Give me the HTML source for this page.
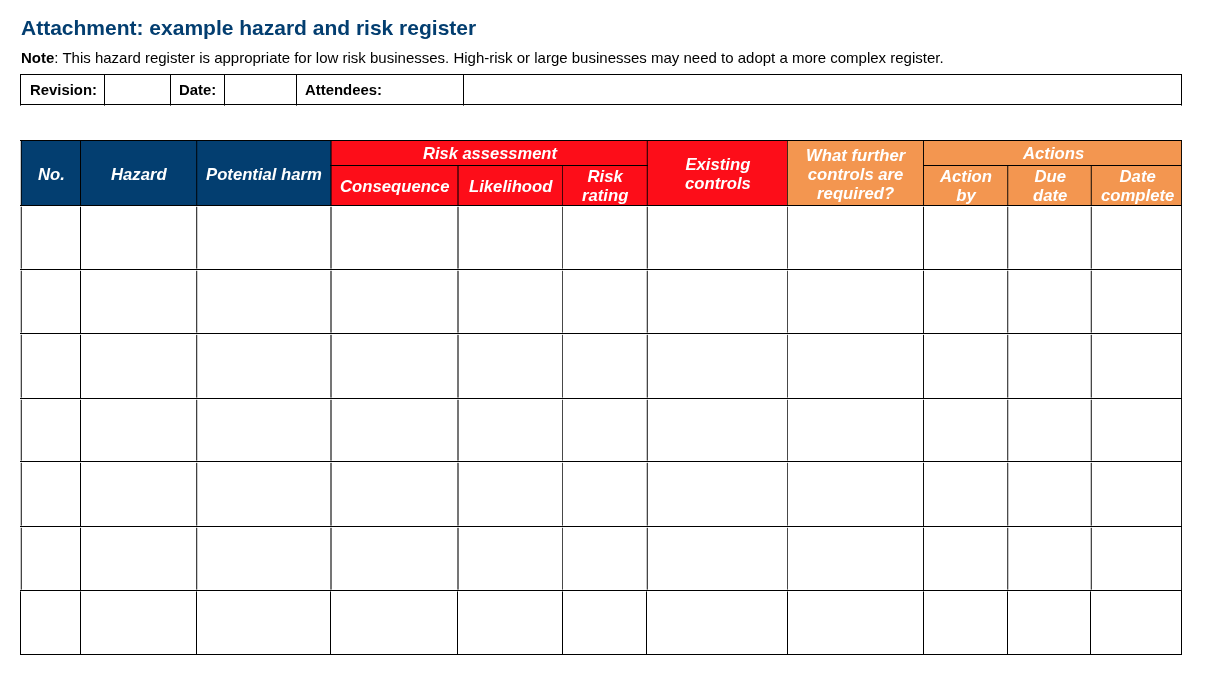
<!DOCTYPE html>
<html><head><meta charset="utf-8"><title>Hazard and risk register</title>
<style>
html,body{margin:0;padding:0;background:#fff;}
body{width:1210px;height:677px;position:relative;overflow:hidden;font-family:"Liberation Sans",sans-serif;color:#000;}
.l{position:absolute;background:#000;}
h1{will-change:transform;position:absolute;left:21px;top:16px;margin:0;font-size:21px;font-weight:bold;color:#033e70;line-height:24px;white-space:nowrap;}
.note{will-change:transform;position:absolute;left:21px;top:49px;font-size:15px;line-height:18px;white-space:nowrap;}
.lab{will-change:transform;position:absolute;font-size:14.9px;font-weight:bold;line-height:18px;white-space:nowrap;}
.bg{position:absolute;}
.hc{position:absolute;display:flex;align-items:center;justify-content:center;text-align:center;color:#fff;font-weight:bold;font-style:italic;font-size:16.7px;line-height:19px;}
.hc span{will-change:transform;position:relative;left:1px;display:block;}
.blue{background:#033e70;}
.red{background:#fd0d19;}
.org{background:#f39650;}
</style></head><body>
<h1>Attachment: example hazard and risk register</h1>
<div class="note"><b>Note</b>: This hazard register is appropriate for low risk businesses. High-risk or large businesses may need to adopt a more complex register.</div>

<div class="l" style="left:20px;top:74px;width:1162px;height:1px"></div>
<div class="l" style="left:20px;top:104px;width:1162px;height:1px"></div>
<div class="l" style="left:20px;top:74px;width:1px;height:31px"></div>
<div class="l" style="left:20px;top:105px;width:1px;height:1px;background:rgba(0,0,0,.6)"></div>
<div class="l" style="left:104px;top:74px;width:1px;height:31px"></div>
<div class="l" style="left:104px;top:105px;width:1px;height:1px;background:rgba(0,0,0,.6)"></div>
<div class="l" style="left:170px;top:74px;width:1px;height:31px"></div>
<div class="l" style="left:170px;top:105px;width:1px;height:1px;background:rgba(0,0,0,.6)"></div>
<div class="l" style="left:224px;top:74px;width:1px;height:31px"></div>
<div class="l" style="left:224px;top:105px;width:1px;height:1px;background:rgba(0,0,0,.6)"></div>
<div class="l" style="left:296px;top:74px;width:1px;height:31px"></div>
<div class="l" style="left:296px;top:105px;width:1px;height:1px;background:rgba(0,0,0,.6)"></div>
<div class="l" style="left:463px;top:74px;width:1px;height:31px"></div>
<div class="l" style="left:463px;top:105px;width:1px;height:1px;background:rgba(0,0,0,.6)"></div>
<div class="l" style="left:1181px;top:74px;width:1px;height:31px"></div>
<div class="l" style="left:1181px;top:105px;width:1px;height:1px;background:rgba(0,0,0,.6)"></div>
<div class="lab" style="left:30px;top:81px">Revision:</div>
<div class="lab" style="left:179px;top:81px">Date:</div>
<div class="lab" style="left:305px;top:81px">Attendees:</div>
<div class="bg blue" style="left:21px;top:140px;width:310px;height:65px"></div>
<div class="bg red" style="left:331px;top:140px;width:456px;height:65px"></div>
<div class="bg org" style="left:787px;top:140px;width:395px;height:65px"></div>
<div class="hc" style="left:20px;top:140px;width:60px;height:65px"><span style="top:2px;left:1px">No.</span></div>
<div class="hc" style="left:80px;top:140px;width:116px;height:65px"><span style="top:2px;left:1px">Hazard</span></div>
<div class="hc" style="left:196px;top:140px;width:134px;height:65px"><span style="top:2px;left:1px">Potential harm</span></div>
<div class="hc" style="left:330px;top:140px;width:316px;height:25px"><span style="top:1px;left:2px"><i style="font-size:16.5px">Risk assessment</i></span></div>
<div class="hc" style="left:330px;top:165px;width:127px;height:40px"><span style="top:1px;left:1px">Consequence</span></div>
<div class="hc" style="left:457px;top:165px;width:105px;height:40px"><span style="top:1px;left:1px">Likelihood</span></div>
<div class="hc" style="left:562px;top:165px;width:84px;height:40px"><span style="top:1px;left:1px">Risk<br>rating</span></div>
<div class="hc" style="left:646px;top:140px;width:141px;height:65px"><span style="top:1px;left:1px">Existing<br>controls</span></div>
<div class="hc" style="left:787px;top:140px;width:136px;height:65px"><span style="top:2px;left:1px">What further<br>controls are<br>required?</span></div>
<div class="hc" style="left:923px;top:140px;width:258px;height:25px"><span style="top:1px;left:2px">Actions</span></div>
<div class="hc" style="left:923px;top:165px;width:84px;height:40px"><span style="top:1px;left:1px">Action<br>by</span></div>
<div class="hc" style="left:1007px;top:165px;width:83px;height:40px"><span style="top:1px;left:2px">Due<br>date</span></div>
<div class="hc" style="left:1090px;top:165px;width:91px;height:40px"><span style="top:1px;left:2px">Date<br>complete</span></div>
<div class="l" style="left:20px;top:140px;width:1px;height:450px;background:rgba(0,0,0,0.22)"></div>
<div class="l" style="left:21px;top:140px;width:1px;height:450px;background:rgba(0,0,0,0.73)"></div>
<div class="l" style="left:80px;top:140px;width:1px;height:450px;background:rgba(0,0,0,1)"></div>
<div class="l" style="left:196px;top:140px;width:1px;height:450px;background:rgba(0,0,0,0.75)"></div>
<div class="l" style="left:197px;top:140px;width:1px;height:450px;background:rgba(0,0,0,0.2)"></div>
<div class="l" style="left:330px;top:140px;width:1px;height:450px;background:rgba(0,0,0,0.54)"></div>
<div class="l" style="left:331px;top:140px;width:1px;height:450px;background:rgba(0,0,0,0.54)"></div>
<div class="l" style="left:457px;top:165px;width:1px;height:425px;background:rgba(0,0,0,0.54)"></div>
<div class="l" style="left:458px;top:165px;width:1px;height:425px;background:rgba(0,0,0,0.54)"></div>
<div class="l" style="left:562px;top:165px;width:1px;height:425px;background:rgba(0,0,0,0.72)"></div>
<div class="l" style="left:646px;top:140px;width:1px;height:450px;background:rgba(0,0,0,0.22)"></div>
<div class="l" style="left:647px;top:140px;width:1px;height:450px;background:rgba(0,0,0,0.73)"></div>
<div class="l" style="left:787px;top:140px;width:1px;height:450px;background:rgba(0,0,0,0.72)"></div>
<div class="l" style="left:923px;top:140px;width:1px;height:450px;background:rgba(0,0,0,0.95)"></div>
<div class="l" style="left:1007px;top:165px;width:1px;height:425px;background:rgba(0,0,0,0.71)"></div>
<div class="l" style="left:1008px;top:165px;width:1px;height:425px;background:rgba(0,0,0,0.22)"></div>
<div class="l" style="left:1090px;top:165px;width:1px;height:425px;background:rgba(0,0,0,0.22)"></div>
<div class="l" style="left:1091px;top:165px;width:1px;height:425px;background:rgba(0,0,0,0.72)"></div>
<div class="l" style="left:1181px;top:140px;width:1px;height:450px;background:rgba(0,0,0,0.92)"></div>
<div class="l" style="left:20px;top:590px;width:1px;height:65px"></div>
<div class="l" style="left:80px;top:590px;width:1px;height:65px"></div>
<div class="l" style="left:196px;top:590px;width:1px;height:65px"></div>
<div class="l" style="left:330px;top:590px;width:1px;height:65px"></div>
<div class="l" style="left:457px;top:590px;width:1px;height:65px"></div>
<div class="l" style="left:562px;top:590px;width:1px;height:65px"></div>
<div class="l" style="left:646px;top:590px;width:1px;height:65px"></div>
<div class="l" style="left:787px;top:590px;width:1px;height:65px"></div>
<div class="l" style="left:923px;top:590px;width:1px;height:65px"></div>
<div class="l" style="left:1007px;top:590px;width:1px;height:65px"></div>
<div class="l" style="left:1090px;top:590px;width:1px;height:65px"></div>
<div class="l" style="left:1181px;top:590px;width:1px;height:65px"></div>
<div class="l" style="left:20px;top:140px;width:1162px;height:1px"></div>
<div class="l" style="left:330px;top:165px;width:318px;height:1px"></div>
<div class="l" style="left:923px;top:165px;width:259px;height:1px"></div>
<div class="l" style="left:20px;top:205px;width:1162px;height:1px"></div>
<div class="l" style="left:20px;top:269px;width:1162px;height:1px"></div>
<div class="l" style="left:20px;top:333px;width:1162px;height:1px"></div>
<div class="l" style="left:20px;top:398px;width:1162px;height:1px"></div>
<div class="l" style="left:20px;top:461px;width:1162px;height:1px"></div>
<div class="l" style="left:20px;top:526px;width:1162px;height:1px"></div>
<div class="l" style="left:20px;top:590px;width:1162px;height:1px"></div>
<div class="l" style="left:20px;top:654px;width:1162px;height:1px"></div>
<div class="l" style="left:20px;top:206px;width:1161px;height:1px;background:rgba(255,255,255,0.8)"></div>
<div class="l" style="left:20px;top:270px;width:1161px;height:1px;background:rgba(255,255,255,0.8)"></div>
<div class="l" style="left:20px;top:334px;width:1161px;height:1px;background:rgba(255,255,255,0.8)"></div>
<div class="l" style="left:20px;top:399px;width:1161px;height:1px;background:rgba(255,255,255,0.8)"></div>
<div class="l" style="left:20px;top:462px;width:1161px;height:1px;background:rgba(255,255,255,0.8)"></div>
<div class="l" style="left:20px;top:527px;width:1161px;height:1px;background:rgba(255,255,255,0.8)"></div>
<div class="l" style="left:20px;top:591px;width:1161px;height:1px;background:rgba(255,255,255,0.4)"></div>
<div class="l" style="left:20px;top:268px;width:1px;height:1px;background:rgba(255,255,255,.4)"></div>
<div class="l" style="left:21px;top:268px;width:1px;height:1px;background:rgba(255,255,255,.4)"></div>
<div class="l" style="left:196px;top:268px;width:1px;height:1px;background:rgba(255,255,255,.4)"></div>
<div class="l" style="left:197px;top:268px;width:1px;height:1px;background:rgba(255,255,255,.4)"></div>
<div class="l" style="left:330px;top:268px;width:1px;height:1px;background:rgba(255,255,255,.4)"></div>
<div class="l" style="left:331px;top:268px;width:1px;height:1px;background:rgba(255,255,255,.4)"></div>
<div class="l" style="left:457px;top:268px;width:1px;height:1px;background:rgba(255,255,255,.4)"></div>
<div class="l" style="left:458px;top:268px;width:1px;height:1px;background:rgba(255,255,255,.4)"></div>
<div class="l" style="left:562px;top:268px;width:1px;height:1px;background:rgba(255,255,255,.4)"></div>
<div class="l" style="left:646px;top:268px;width:1px;height:1px;background:rgba(255,255,255,.4)"></div>
<div class="l" style="left:647px;top:268px;width:1px;height:1px;background:rgba(255,255,255,.4)"></div>
<div class="l" style="left:787px;top:268px;width:1px;height:1px;background:rgba(255,255,255,.4)"></div>
<div class="l" style="left:1007px;top:268px;width:1px;height:1px;background:rgba(255,255,255,.4)"></div>
<div class="l" style="left:1008px;top:268px;width:1px;height:1px;background:rgba(255,255,255,.4)"></div>
<div class="l" style="left:1090px;top:268px;width:1px;height:1px;background:rgba(255,255,255,.4)"></div>
<div class="l" style="left:1091px;top:268px;width:1px;height:1px;background:rgba(255,255,255,.4)"></div>
<div class="l" style="left:20px;top:332px;width:1px;height:1px;background:rgba(255,255,255,.4)"></div>
<div class="l" style="left:21px;top:332px;width:1px;height:1px;background:rgba(255,255,255,.4)"></div>
<div class="l" style="left:196px;top:332px;width:1px;height:1px;background:rgba(255,255,255,.4)"></div>
<div class="l" style="left:197px;top:332px;width:1px;height:1px;background:rgba(255,255,255,.4)"></div>
<div class="l" style="left:330px;top:332px;width:1px;height:1px;background:rgba(255,255,255,.4)"></div>
<div class="l" style="left:331px;top:332px;width:1px;height:1px;background:rgba(255,255,255,.4)"></div>
<div class="l" style="left:457px;top:332px;width:1px;height:1px;background:rgba(255,255,255,.4)"></div>
<div class="l" style="left:458px;top:332px;width:1px;height:1px;background:rgba(255,255,255,.4)"></div>
<div class="l" style="left:562px;top:332px;width:1px;height:1px;background:rgba(255,255,255,.4)"></div>
<div class="l" style="left:646px;top:332px;width:1px;height:1px;background:rgba(255,255,255,.4)"></div>
<div class="l" style="left:647px;top:332px;width:1px;height:1px;background:rgba(255,255,255,.4)"></div>
<div class="l" style="left:787px;top:332px;width:1px;height:1px;background:rgba(255,255,255,.4)"></div>
<div class="l" style="left:1007px;top:332px;width:1px;height:1px;background:rgba(255,255,255,.4)"></div>
<div class="l" style="left:1008px;top:332px;width:1px;height:1px;background:rgba(255,255,255,.4)"></div>
<div class="l" style="left:1090px;top:332px;width:1px;height:1px;background:rgba(255,255,255,.4)"></div>
<div class="l" style="left:1091px;top:332px;width:1px;height:1px;background:rgba(255,255,255,.4)"></div>
<div class="l" style="left:20px;top:397px;width:1px;height:1px;background:rgba(255,255,255,.4)"></div>
<div class="l" style="left:21px;top:397px;width:1px;height:1px;background:rgba(255,255,255,.4)"></div>
<div class="l" style="left:196px;top:397px;width:1px;height:1px;background:rgba(255,255,255,.4)"></div>
<div class="l" style="left:197px;top:397px;width:1px;height:1px;background:rgba(255,255,255,.4)"></div>
<div class="l" style="left:330px;top:397px;width:1px;height:1px;background:rgba(255,255,255,.4)"></div>
<div class="l" style="left:331px;top:397px;width:1px;height:1px;background:rgba(255,255,255,.4)"></div>
<div class="l" style="left:457px;top:397px;width:1px;height:1px;background:rgba(255,255,255,.4)"></div>
<div class="l" style="left:458px;top:397px;width:1px;height:1px;background:rgba(255,255,255,.4)"></div>
<div class="l" style="left:562px;top:397px;width:1px;height:1px;background:rgba(255,255,255,.4)"></div>
<div class="l" style="left:646px;top:397px;width:1px;height:1px;background:rgba(255,255,255,.4)"></div>
<div class="l" style="left:647px;top:397px;width:1px;height:1px;background:rgba(255,255,255,.4)"></div>
<div class="l" style="left:787px;top:397px;width:1px;height:1px;background:rgba(255,255,255,.4)"></div>
<div class="l" style="left:1007px;top:397px;width:1px;height:1px;background:rgba(255,255,255,.4)"></div>
<div class="l" style="left:1008px;top:397px;width:1px;height:1px;background:rgba(255,255,255,.4)"></div>
<div class="l" style="left:1090px;top:397px;width:1px;height:1px;background:rgba(255,255,255,.4)"></div>
<div class="l" style="left:1091px;top:397px;width:1px;height:1px;background:rgba(255,255,255,.4)"></div>
<div class="l" style="left:20px;top:460px;width:1px;height:1px;background:rgba(255,255,255,.4)"></div>
<div class="l" style="left:21px;top:460px;width:1px;height:1px;background:rgba(255,255,255,.4)"></div>
<div class="l" style="left:196px;top:460px;width:1px;height:1px;background:rgba(255,255,255,.4)"></div>
<div class="l" style="left:197px;top:460px;width:1px;height:1px;background:rgba(255,255,255,.4)"></div>
<div class="l" style="left:330px;top:460px;width:1px;height:1px;background:rgba(255,255,255,.4)"></div>
<div class="l" style="left:331px;top:460px;width:1px;height:1px;background:rgba(255,255,255,.4)"></div>
<div class="l" style="left:457px;top:460px;width:1px;height:1px;background:rgba(255,255,255,.4)"></div>
<div class="l" style="left:458px;top:460px;width:1px;height:1px;background:rgba(255,255,255,.4)"></div>
<div class="l" style="left:562px;top:460px;width:1px;height:1px;background:rgba(255,255,255,.4)"></div>
<div class="l" style="left:646px;top:460px;width:1px;height:1px;background:rgba(255,255,255,.4)"></div>
<div class="l" style="left:647px;top:460px;width:1px;height:1px;background:rgba(255,255,255,.4)"></div>
<div class="l" style="left:787px;top:460px;width:1px;height:1px;background:rgba(255,255,255,.4)"></div>
<div class="l" style="left:1007px;top:460px;width:1px;height:1px;background:rgba(255,255,255,.4)"></div>
<div class="l" style="left:1008px;top:460px;width:1px;height:1px;background:rgba(255,255,255,.4)"></div>
<div class="l" style="left:1090px;top:460px;width:1px;height:1px;background:rgba(255,255,255,.4)"></div>
<div class="l" style="left:1091px;top:460px;width:1px;height:1px;background:rgba(255,255,255,.4)"></div>
<div class="l" style="left:20px;top:525px;width:1px;height:1px;background:rgba(255,255,255,.4)"></div>
<div class="l" style="left:21px;top:525px;width:1px;height:1px;background:rgba(255,255,255,.4)"></div>
<div class="l" style="left:196px;top:525px;width:1px;height:1px;background:rgba(255,255,255,.4)"></div>
<div class="l" style="left:197px;top:525px;width:1px;height:1px;background:rgba(255,255,255,.4)"></div>
<div class="l" style="left:330px;top:525px;width:1px;height:1px;background:rgba(255,255,255,.4)"></div>
<div class="l" style="left:331px;top:525px;width:1px;height:1px;background:rgba(255,255,255,.4)"></div>
<div class="l" style="left:457px;top:525px;width:1px;height:1px;background:rgba(255,255,255,.4)"></div>
<div class="l" style="left:458px;top:525px;width:1px;height:1px;background:rgba(255,255,255,.4)"></div>
<div class="l" style="left:562px;top:525px;width:1px;height:1px;background:rgba(255,255,255,.4)"></div>
<div class="l" style="left:646px;top:525px;width:1px;height:1px;background:rgba(255,255,255,.4)"></div>
<div class="l" style="left:647px;top:525px;width:1px;height:1px;background:rgba(255,255,255,.4)"></div>
<div class="l" style="left:787px;top:525px;width:1px;height:1px;background:rgba(255,255,255,.4)"></div>
<div class="l" style="left:1007px;top:525px;width:1px;height:1px;background:rgba(255,255,255,.4)"></div>
<div class="l" style="left:1008px;top:525px;width:1px;height:1px;background:rgba(255,255,255,.4)"></div>
<div class="l" style="left:1090px;top:525px;width:1px;height:1px;background:rgba(255,255,255,.4)"></div>
<div class="l" style="left:1091px;top:525px;width:1px;height:1px;background:rgba(255,255,255,.4)"></div>
<div class="l" style="left:20px;top:589px;width:1px;height:1px;background:rgba(255,255,255,.4)"></div>
<div class="l" style="left:21px;top:589px;width:1px;height:1px;background:rgba(255,255,255,.4)"></div>
<div class="l" style="left:196px;top:589px;width:1px;height:1px;background:rgba(255,255,255,.4)"></div>
<div class="l" style="left:197px;top:589px;width:1px;height:1px;background:rgba(255,255,255,.4)"></div>
<div class="l" style="left:330px;top:589px;width:1px;height:1px;background:rgba(255,255,255,.4)"></div>
<div class="l" style="left:331px;top:589px;width:1px;height:1px;background:rgba(255,255,255,.4)"></div>
<div class="l" style="left:457px;top:589px;width:1px;height:1px;background:rgba(255,255,255,.4)"></div>
<div class="l" style="left:458px;top:589px;width:1px;height:1px;background:rgba(255,255,255,.4)"></div>
<div class="l" style="left:562px;top:589px;width:1px;height:1px;background:rgba(255,255,255,.4)"></div>
<div class="l" style="left:646px;top:589px;width:1px;height:1px;background:rgba(255,255,255,.4)"></div>
<div class="l" style="left:647px;top:589px;width:1px;height:1px;background:rgba(255,255,255,.4)"></div>
<div class="l" style="left:787px;top:589px;width:1px;height:1px;background:rgba(255,255,255,.4)"></div>
<div class="l" style="left:1007px;top:589px;width:1px;height:1px;background:rgba(255,255,255,.4)"></div>
<div class="l" style="left:1008px;top:589px;width:1px;height:1px;background:rgba(255,255,255,.4)"></div>
<div class="l" style="left:1090px;top:589px;width:1px;height:1px;background:rgba(255,255,255,.4)"></div>
<div class="l" style="left:1091px;top:589px;width:1px;height:1px;background:rgba(255,255,255,.4)"></div>
</body></html>
